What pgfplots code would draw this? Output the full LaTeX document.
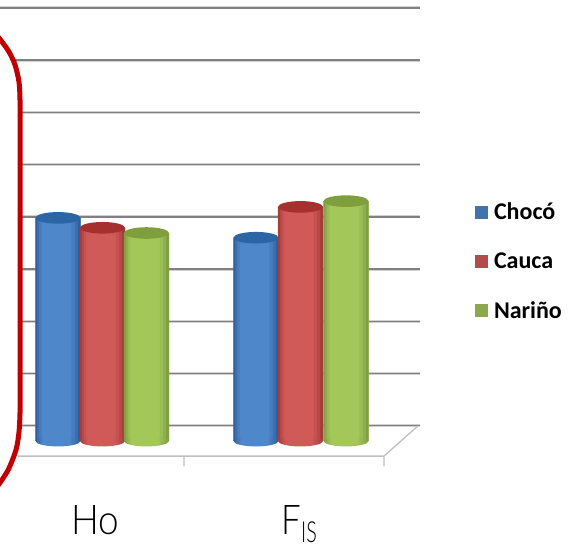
\documentclass[border=0pt]{standalone}
\usepackage{fontspec}
\usepackage{graphicx}
\usepackage{pgfplots}
\pgfplotsset{compat=1.18}
\setmainfont{Carlito}
\newfontfamily\lbl{Lato Light}

\definecolor{blueD}{HTML}{2F5F9C}
\definecolor{blueM}{HTML}{4F87CB}
\definecolor{blueT}{HTML}{2C65A6}
\definecolor{redD}{HTML}{A63C3A}
\definecolor{redM}{HTML}{D05A58}
\definecolor{redT}{HTML}{A5302E}
\definecolor{greenD}{HTML}{7F9F42}
\definecolor{greenM}{HTML}{A4C75A}
\definecolor{greenT}{HTML}{7E9F3C}
\definecolor{frame}{HTML}{C00000}

% round-looking ends, as plot marks (pt on the centre: bare numbers would be axis cs)
\newcommand\cylmarks[4]{%
  \pgfdeclarehorizontalshading{#1side}{100bp}{color(0bp)=(#2); color(25bp)=(#2); color(33bp)=(#3); color(62bp)=(#3); color(75bp)=(#2); color(100bp)=(#2)}%
  \pgfdeclareplotmark{#1bot}{\path[rotate=4,draw=none,shade,shading=#1side] (0pt,0pt) ellipse (22.5pt and 5.5pt);}%
  \pgfdeclareplotmark{#1top}{\path[rotate=4,draw=none,fill=#4] (0pt,0pt) ellipse (22.5pt and 5.8pt);}%
}
\cylmarks{b}{blueD}{blueM}{blueT}
\cylmarks{r}{redD}{redM}{redT}
\cylmarks{g}{greenD}{greenM}{greenT}

\pgfplotsset{
  cyl/.style={ybar, bar width=45pt, bar shift=0pt, draw=none, fill=#1},
  swatch/.style={legend image code/.code={\path[draw=none,fill=#1] (0pt,-6.5pt) rectangle (13pt,6.5pt);}},
}
% darker strips down both sides of a bar: dark, mid, coordinates
\newcommand\sides[3]{%
  \addplot[forget plot, ybar, draw=none, bar width=2.2pt, bar shift=-21.5pt, fill=#1] coordinates {#3};
  \addplot[forget plot, ybar, draw=none, bar width=2.2pt, bar shift=-19.5pt, fill=#1!60!#2] coordinates {#3};
  \addplot[forget plot, ybar, draw=none, bar width=2.2pt, bar shift=-17.5pt, fill=#1!25!#2] coordinates {#3};
  \addplot[forget plot, ybar, draw=none, bar width=3.2pt, bar shift=21pt, fill=#1] coordinates {#3};
  \addplot[forget plot, ybar, draw=none, bar width=3.2pt, bar shift=18pt, fill=#1!60!#2] coordinates {#3};
  \addplot[forget plot, ybar, draw=none, bar width=3.2pt, bar shift=15pt, fill=#1!25!#2] coordinates {#3};
}

\begin{document}
\begin{tikzpicture}
\begin{axis}[
  scale only axis, width=577pt, height=547pt,
  xmin=0, xmax=577, ymin=-0.203, ymax=0.844,
  xtick=\empty, ytick=\empty,
  axis line style={draw=none},
  unbounded coords=jump,
  legend style={at={(axis cs:475,0.459)}, anchor=north west, draw=none, fill=none,
    inner sep=0pt, outer sep=0pt, row sep=27.5pt, column sep=4pt,
    font=\fontsize{24}{24}\selectfont\bfseries, cells={anchor=west}},
]
% back wall lines
\addplot[forget plot, draw=black!50, line width=1.4pt, preaction={draw=black!18, line width=3pt}] coordinates {
  (0,0.829) (420,0.829) (nan,nan)
  (14,0.729) (420,0.729) (nan,nan)
  (22,0.629) (420,0.629) (nan,nan)
  (22,0.529) (420,0.529) (nan,nan)
  (22,0.429) (420,0.429) (nan,nan)
  (22,0.329) (420,0.329) (nan,nan)
  (22,0.229) (420,0.229) (nan,nan)
  (22,0.129) (420,0.129) (nan,nan)
  (22,0.029) (420,0.029)
};
% floor edge and ticks
\addplot[forget plot, draw=black!25, line width=1.3pt] coordinates {
  (18,-0.029) (384,-0.029) (418,0.029) (nan,nan)
  (184,-0.029) (184,-0.048) (nan,nan)
  (384,-0.029) (384,-0.048)
};
% red frame
\addplot[forget plot, smooth, tension=0.5, draw=frame, line width=5pt] coordinates {
  (-3,0.776) (8,0.748) (15,0.720) (19,0.687) (20,0.653) (20,0.60) (20,0.10) (20,0.054) (19,0.017) (16,-0.017) (8,-0.056) (-3,-0.088)
};

% Choco
\addplot[forget plot, only marks, mark=bbot] coordinates {(58,0) (256,0)};
\addplot[cyl=blueM, swatch={blueM!85!black}] coordinates {(58,0.427) (256,0.389)};
\addlegendentry{Chocó}
\sides{blueD}{blueM}{(58,0.427) (256,0.389)}
\addplot[forget plot, only marks, mark=btop] coordinates {(58,0.427) (256,0.389)};
% Cauca
\addplot[forget plot, only marks, mark=rbot] coordinates {(102.5,0) (300.5,0)};
\addplot[cyl=redM, swatch={redM!85!black}] coordinates {(102.5,0.408) (300.5,0.448)};
\addlegendentry{Cauca}
\sides{redD}{redM}{(102.5,0.408) (300.5,0.448)}
\addplot[forget plot, only marks, mark=rtop] coordinates {(102.5,0.408) (300.5,0.448)};
% Narino
\addplot[forget plot, only marks, mark=gbot] coordinates {(146.5,0) (346,0)};
\addplot[cyl=greenM, swatch={greenM!85!black}] coordinates {(146.5,0.398) (346,0.459)};
\addlegendentry{Nariño}
\sides{greenD}{greenM}{(146.5,0.398) (346,0.459)}
\addplot[forget plot, only marks, mark=gtop] coordinates {(146.5,0.398) (346,0.459)};

\node[anchor=base west, inner sep=0pt] at (axis cs:71,-0.180)
  {\scalebox{.9}[1]{\lbl\fontsize{41}{41}\selectfont Ho}};
\node[anchor=base west, inner sep=0pt] at (axis cs:281,-0.180)
  {\scalebox{.85}[1]{\lbl\fontsize{41}{41}\selectfont F}};
\node[anchor=base west, inner sep=0pt] at (axis cs:301,-0.195)
  {\scalebox{.68}[1]{\lbl\fontsize{29}{29}\selectfont IS}};
\end{axis}
\end{tikzpicture}
\end{document}
